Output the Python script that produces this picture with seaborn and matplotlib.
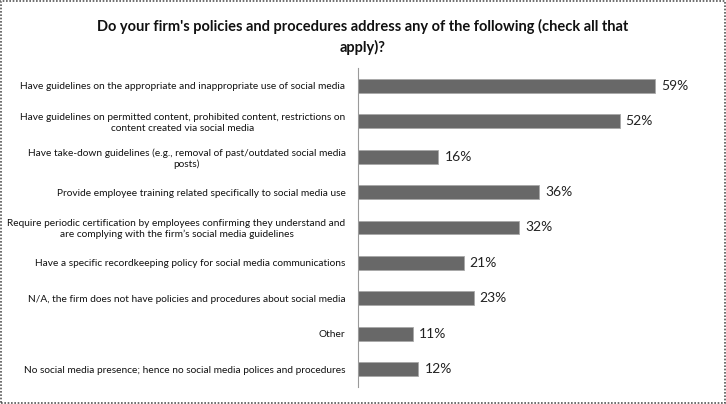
import matplotlib
matplotlib.use("Agg")
import matplotlib.pyplot as plt
import seaborn as sns
import pandas as pd
from matplotlib import font_manager

categories = [
    "Have guidelines on the appropriate and inappropriate use of social media",
    "Have guidelines on permitted content, prohibited content, restrictions on\ncontent created via social media",
    "Have take-down guidelines (e.g., removal of past/outdated social media\nposts)",
    "Provide employee training related specifically to social media use",
    "Require periodic certification by employees confirming they understand and\nare complying with the firm\u2019s social media guidelines",
    "Have a specific recordkeeping policy for social media communications",
    "N/A, the firm does not have policies and procedures about social media",
    "Other",
    "No social media presence; hence no social media polices and procedures",
]
values = [59, 52, 16, 36, 32, 21, 23, 11, 12]
title = "Do your firm's policies and procedures address any of the following (check all that\napply)?"

sns.set_style("white")
avail = {f.name for f in font_manager.fontManager.ttflist}
fam = "Lato"
for cand in ["Liberation Sans Narrow", "DejaVu Sans Condensed", "Lato"]:
    if cand in avail:
        fam = cand
        break
plt.rcParams['font.family'] = [fam, 'DejaVu Sans']

df = pd.DataFrame({"cat": categories, "val": values})

fig = plt.figure(figsize=(7.26, 4.04), dpi=100)
ax = fig.add_axes([358/726, 1-387/404, 342/726, 319/404])
sns.barplot(data=df, y="cat", x="val", orient="h", color="#686868",
            width=0.39, edgecolor="#a8a8a8", linewidth=0.6, saturation=1, ax=ax)
ax.set_xlim(0, 68)
ax.set_ylim(8.5, -0.5)
ax.set_xlabel("")
ax.set_ylabel("")
ax.set_xticks([])
for s in ["top", "right", "bottom"]:
    ax.spines[s].set_visible(False)
ax.spines["left"].set_color("#9a9a9a")
ax.spines["left"].set_linewidth(0.8)
ax.tick_params(axis="y", length=0, pad=9)

# size tick labels so the longest single-line label spans about 326 px as in the reference
fig.canvas.draw()
r = fig.canvas.get_renderer()
probe = fig.text(0, 0, categories[0], fontsize=8)
w = probe.get_window_extent(r).width
probe.remove()
lab_size = min(8.2, 8 * 326 / w)
for lbl in ax.get_yticklabels():
    lbl.set_fontsize(lab_size)
    lbl.set_multialignment("center")
    lbl.set_color("#111111")

for i, v in enumerate(values):
    ax.text(v + 1.2, i, f"{v}%", va="center", ha="left", fontsize=10, color="#222222")

fig.text(0.5, 1-37/404, title, ha="center", va="center", fontsize=10.5,
         fontweight="bold", color="#111111", linespacing=1.55)

fig.patches.append(plt.Rectangle((0.002, 0.003), 0.996, 0.994, transform=fig.transFigure,
                                 fill=False, edgecolor="#555555", linewidth=1.2, linestyle=(0, (1, 1))))

fig.savefig("out.png", dpi=100)
